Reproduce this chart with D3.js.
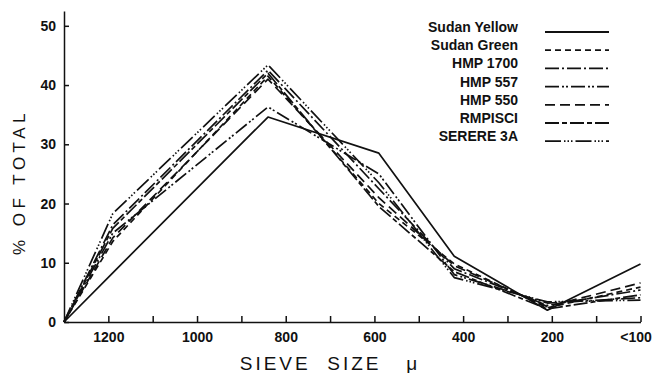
<!DOCTYPE html>
<html>
<head>
<meta charset="utf-8">
<script src="https://cdn.jsdelivr.net/npm/d3@7"></script>
<style>
  body { margin: 0; background: #fff; }
  svg { display: block; font-family: "Liberation Sans", Arial, sans-serif; }
  .axis path, .axis line { stroke: #111; stroke-width: 1.5; }
  .axis text { font-size: 14px; font-weight: bold; fill: #111; }
</style>
</head>
<body>
<svg id="chart"></svg>
<script>
// sieve sizes (microns); 1300 is the left edge, 0 is the "<100" pan
const sizes = [1300, 1190, 840, 590, 420, 210, 0];
const seriesNames = ["Sudan Yellow", "Sudan Green", "HMP 1700", "HMP 557", "HMP 550", "RMPISCI", "SERERE 3A"];
const sudanYellow = [0, 8.3, 34.6, 28.5, 11.1, 2.0, 9.8];
const sudanGreen  = [0, 13.6, 41.5, 20.0, 9.8, 2.4, 5.9];
const hmp1700     = [0, 16.4, 42.5, 22.5, 9.0, 2.8, 5.4];
const hmp557      = [0, 15.0, 36.3, 25.0, 8.0, 3.2, 4.1];
const hmp550      = [0, 14.2, 41.0, 21.0, 9.5, 2.6, 6.6];
const rmpisci     = [0, 15.8, 42.0, 19.5, 8.5, 2.2, 4.6];
const serere3A    = [0, 18.3, 43.4, 23.5, 7.5, 3.4, 3.7];
const xTickValues = [1200, 1100, 1000, 900, 800, 700, 600, 500, 400, 300, 200, 100, 0];
const xTickLabels = { 1200: "1200", 1000: "1000", 800: "800", 600: "600", 400: "400", 200: "200", 0: "<100" };
const yTickValues = [0, 10, 20, 30, 40, 50];

const allSeries = [sudanYellow, sudanGreen, hmp1700, hmp557, hmp550, rmpisci, serere3A];
// dash patterns for each series, same order as names
const dashes = ["none", "6,4", "14,3,2,3", "14,3,2,2,2,3", "10,5", "14,3,5,3", "16,3,1.5,2,1.5,2,1.5,3"];

const width = 653, height = 373;
const svg = d3.select("#chart").attr("width", width).attr("height", height);

const xScale = d3.scaleLinear().domain([1300, 0]).range([64, 640.5]);
const yScale = d3.scaleLinear().domain([0, 52.5]).range([322, 11]);

// axes, ticks point inward
const xAxis = d3.axisBottom(xScale)
  .tickValues(xTickValues)
  .tickFormat(d => xTickLabels[d] || "")
  .tickSize(-6)
  .tickSizeOuter(0)
  .tickPadding(10);

const yAxis = d3.axisLeft(yScale)
  .tickValues(yTickValues)
  .tickSize(-5)
  .tickSizeOuter(0)
  .tickPadding(8);

svg.append("g")
  .attr("class", "axis x-axis")
  .attr("transform", `translate(0, ${yScale(0)})`)
  .call(xAxis)
  .call(g => g.selectAll(".tick text").filter(d => d === 0).attr("dx", -5));

svg.append("g")
  .attr("class", "axis y-axis")
  .attr("transform", `translate(${xScale(1300)}, 0)`)
  .call(yAxis);

// series lines
const line = d3.line()
  .x((d, i) => xScale(sizes[i]))
  .y(d => yScale(d));

svg.selectAll(".series")
  .data(allSeries)
  .join("path")
  .attr("class", "series")
  .attr("d", line)
  .attr("fill", "none")
  .attr("stroke", "#111")
  .attr("stroke-width", 1.7)
  .attr("stroke-linejoin", "round")
  .attr("stroke-dasharray", (d, i) => dashes[i]);

// legend
const legend = svg.append("g").attr("class", "legend");
const rows = legend.selectAll("g")
  .data(seriesNames)
  .join("g")
  .attr("transform", (d, i) => `translate(0, ${32 + i * 18.2})`);

rows.append("text")
  .attr("x", 518)
  .attr("y", 0)
  .attr("text-anchor", "end")
  .style("font-size", "14px")
  .style("font-weight", "bold")
  .attr("fill", "#111")
  .text(d => d);

rows.append("line")
  .attr("x1", 545)
  .attr("x2", 609)
  .attr("stroke", "#111")
  .attr("stroke-width", 1.8)
  .attr("stroke-dasharray", (d, i) => dashes[i]);

// axis titles
svg.append("text")
  .attr("transform", "translate(25, 182) rotate(-90)")
  .attr("text-anchor", "middle")
  .style("font-size", "17px")
  .style("letter-spacing", "4.5px")
  .attr("fill", "#111")
  .text("% OF TOTAL");

svg.append("text")
  .attr("x", 330)
  .attr("y", 370)
  .attr("text-anchor", "middle")
  .style("font-size", "19px")
  .style("letter-spacing", "3px")
  .style("white-space", "pre")
  .attr("fill", "#111")
  .text("SIEVE  SIZE   \u03bc");
</script>
</body>
</html>
